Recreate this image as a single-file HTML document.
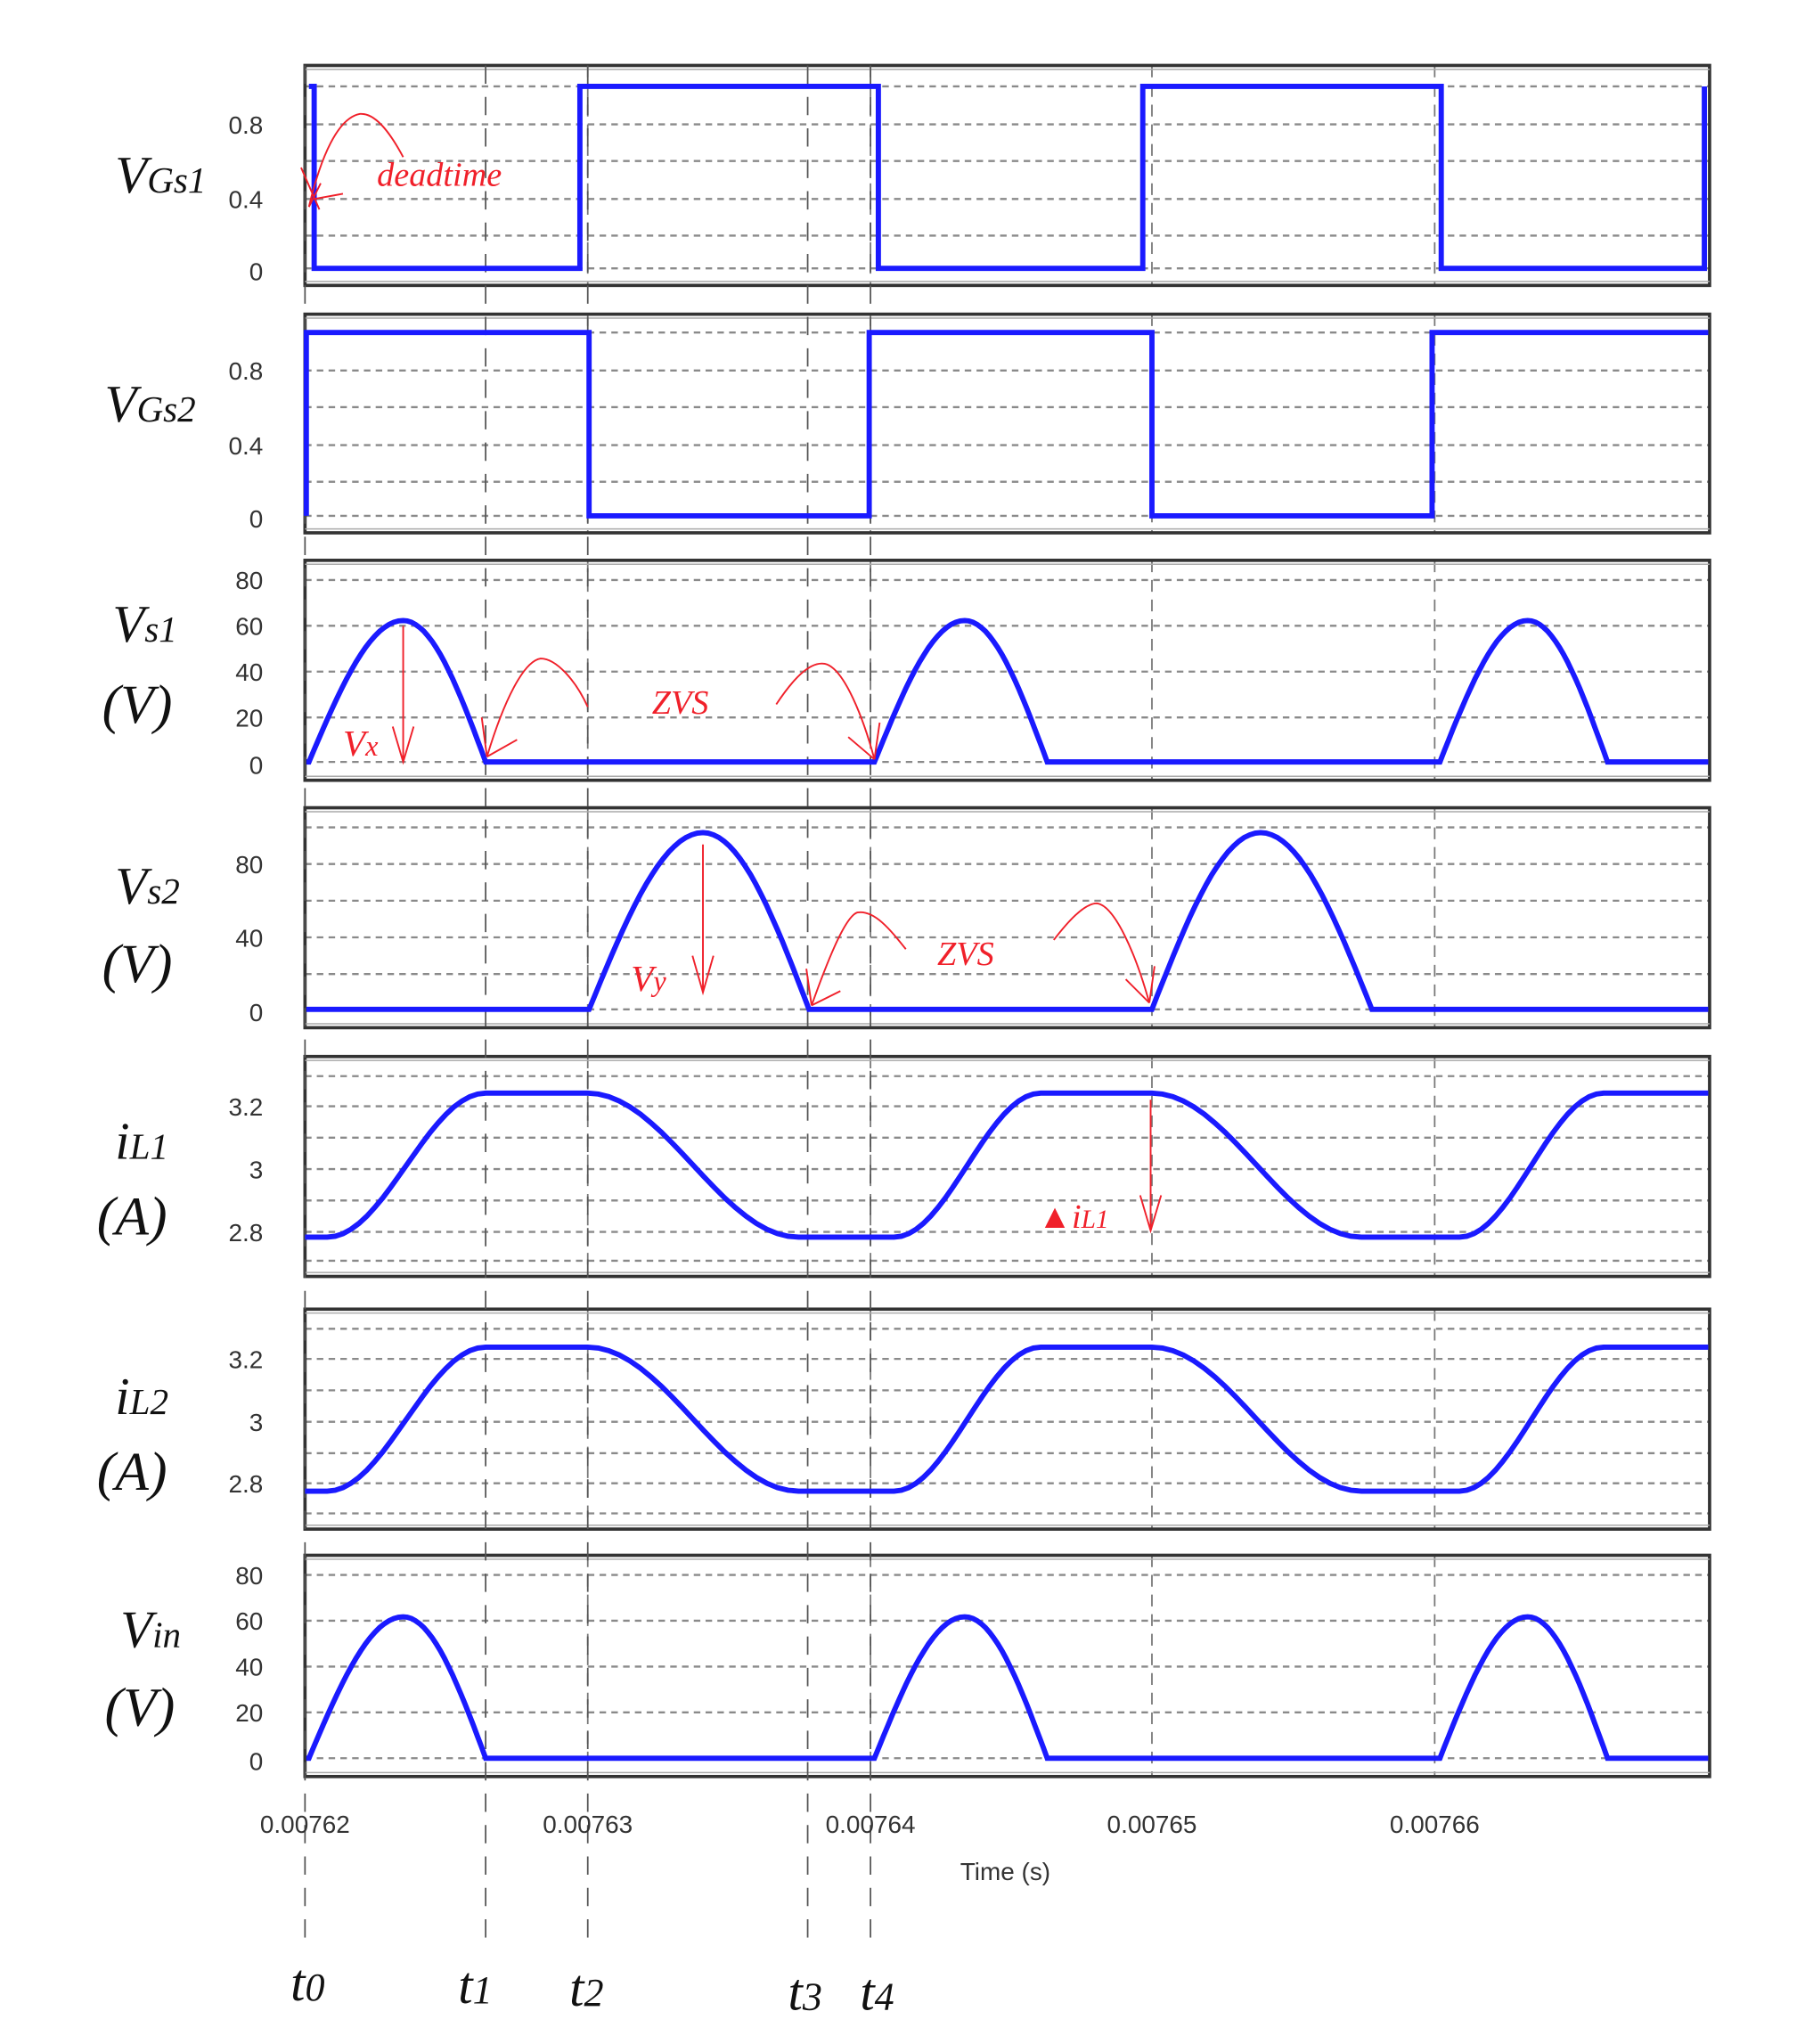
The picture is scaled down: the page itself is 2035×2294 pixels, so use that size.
<!DOCTYPE html>
<html><head><meta charset="utf-8">
<style>
html,body{margin:0;padding:0;background:#fff;}
svg{display:block;}
.tk{font-family:"Liberation Sans",sans-serif;font-size:19px;fill:#333;}
.lab{font-family:"Liberation Serif",serif;font-style:italic;fill:#111;}
.red{font-family:"Liberation Serif",serif;font-style:italic;fill:#f0202a;}
</style></head>
<body>
<svg id="s" width="2035" height="2294" viewBox="0 0 1385 1561.3" preserveAspectRatio="none" xmlns="http://www.w3.org/2000/svg">
<g id="g"></g>
<!-- annotations -->
<g fill="none" stroke="#f0202a" stroke-width="1.3">
<path d="M236,158 C245,120 258,90 275,87 C288,86 300,105 308,120"/>
<path d="M230,128 L244,160 M236,158 L245,140 M240,152 L262,148"/>
<path d="M308,478 L308,582 M300,555 L308,582 L316,555"/>
<path d="M372,578 C385,535 400,505 413,503 C425,503 440,520 449,540"/>
<path d="M372,578 L368,548 M372,578 L395,565"/>
<path d="M593,538 C605,520 618,505 630,507 C645,510 660,550 668,580"/>
<path d="M668,580 L672,552 M668,580 L648,563"/>
<path d="M537,645 L537,758 M529,730 L537,758 L545,730"/>
<path d="M620,768 C630,740 645,700 655,697 C668,695 680,710 692,725"/>
<path d="M620,768 L616,740 M620,768 L642,757"/>
<path d="M805,718 C815,705 828,690 838,690 C852,692 868,730 878,766"/>
<path d="M878,766 L882,738 M878,766 L860,748"/>
<path d="M879,840 L879,940 M871,913 L879,940 L887,913"/>
</g>
<text class="red" x="288" y="142" font-size="26">deadtime</text>
<text class="red" x="262" y="577" font-size="28">V<tspan font-size="22">x</tspan></text>
<text class="red" x="498" y="545" font-size="26">ZVS</text>
<text class="red" x="482" y="757" font-size="28">V<tspan font-size="22">y</tspan></text>
<text class="red" x="716" y="737" font-size="26">ZVS</text>
<text class="red" x="793" y="938" font-size="26">▲<tspan>i</tspan><tspan font-size="20">L1</tspan></text>
</svg>
<script>
const g=document.getElementById('g');let h='';
const XL=233,XR=1306;
const panels=[
 {t:50,b:218,grid:[66,95,123,152,180,205],ticks:[[95,'0.8'],[152,'0.4'],[207,'0']]},
 {t:240,b:407,grid:[254,283,311,340,368,394],ticks:[[283,'0.8'],[340,'0.4'],[396,'0']]},
 {t:428,b:596,grid:[443,478,513,548,582],ticks:[[443,'80'],[478,'60'],[513,'40'],[548,'20'],[584,'0']]},
 {t:617,b:785,grid:[632,660,688,716,744,771],ticks:[[660,'80'],[716,'40'],[773,'0']]},
 {t:807,b:975,grid:[822,845,869,893,917,941,963],ticks:[[845,'3.2'],[893,'3'],[941,'2.8']]},
 {t:1000,b:1168,grid:[1015,1038,1062,1086,1110,1133,1156],ticks:[[1038,'3.2'],[1086,'3'],[1133,'2.8']]},
 {t:1188,b:1357,grid:[1203,1238,1273,1308,1343],ticks:[[1203,'80'],[1238,'60'],[1273,'40'],[1308,'20'],[1345,'0']]}
];
for(const p of panels){
 for(const y of p.grid) h+=`<line x1="${XL}" x2="${XR}" y1="${y}" y2="${y}" stroke="#8a8a8a" stroke-width="1.6" stroke-dasharray="5,4"/>`;
 for(const x of [449,665,880,1096]) h+=`<line x1="${x}" x2="${x}" y1="${p.t}" y2="${p.b}" stroke="#777" stroke-width="1.2" stroke-dasharray="9,6"/>`;
 h+=`<rect x="${XL}" y="${p.t}" width="${XR-XL}" height="${p.b-p.t}" fill="none" stroke="#333" stroke-width="2.5"/>`;
 h+=`<line x1="${XL}" x2="${XR}" y1="${p.t+3}" y2="${p.t+3}" stroke="#aaa" stroke-width="1"/>`;
 h+=`<line x1="${XL}" x2="${XR}" y1="${p.b-3}" y2="${p.b-3}" stroke="#aaa" stroke-width="1"/>`;
 for(const [y,s] of p.ticks) h+=`<text class="tk" x="201" y="${y+7}" text-anchor="end">${s}</text>`;
}
// t lines
for(const x of [233,371,449,617,665]) h+=`<line x1="${x}" x2="${x}" y1="50" y2="1490" stroke="#555" stroke-width="1.2" stroke-dasharray="14,10"/>`;
// signals
function sq(pts){return `<polyline points="${pts}" fill="none" stroke="#1a1aff" stroke-width="4" stroke-linejoin="miter"/>`;}
h+=sq("236,66 240,66 240,205 443,205 443,66 671,66 671,205 873,205 873,66 1101,66 1101,205 1302,205 1302,66");
h+=sq("234,394 234,254 450,254 450,394 664,394 664,254 880,254 880,394 1094,394 1094,254 1305,254");
function humps(y0,yp,hs){
 let pts=[[XL+1,y0]];
 for(const [a,p,b] of hs){
  for(let i=0;i<=20;i++){const u=i/20;pts.push([a+(p-a)*u,y0-(y0-yp)*Math.sin(Math.PI/2*u)]);}
  for(let i=1;i<=20;i++){const u=i/20;pts.push([p+(b-p)*u,y0-(y0-yp)*Math.cos(Math.PI/2*u)]);}
 }
 pts.push([XR-1,y0]);
 return `<polyline points="${pts.map(q=>q[0].toFixed(1)+','+q[1].toFixed(1)).join(' ')}" fill="none" stroke="#1a1aff" stroke-width="4"/>`;
}
h+=humps(582,474,[[236,308,371],[668,737,800],[1100,1167,1228]]);
h+=humps(771,636,[[450,537,618],[880,963,1048]]);
h+=humps(1343,1235,[[236,308,371],[668,737,800],[1100,1167,1228]]);
function cur(lo,hi){
 const segs=[[233,lo],[250,lo],[371,hi],[449,hi],[610,lo],[683,lo],[795,hi],[880,hi],[1040,lo],[1115,lo],[1225,hi],[1305,hi]];
 let pts=[];
 for(let k=0;k<segs.length-1;k++){const [x1,y1]=segs[k],[x2,y2]=segs[k+1];
  for(let i=0;i<=20;i++){const u=i/20;pts.push([x1+(x2-x1)*u,y1+(y2-y1)*(1-Math.cos(Math.PI*u))/2]);}}
 return `<polyline points="${pts.map(q=>q[0].toFixed(1)+','+q[1].toFixed(1)).join(' ')}" fill="none" stroke="#1a1aff" stroke-width="4"/>`;
}
h+=cur(945,835);h+=cur(1139,1029);
// x ticks
[[233,'0.00762'],[449,'0.00763'],[665,'0.00764'],[880,'0.00765'],[1096,'0.00766']].forEach(([x,s])=>h+=`<text class="tk" x="${x}" y="1400" text-anchor="middle">${s}</text>`);
h+=`<text class="tk" x="768" y="1436" text-anchor="middle">Time (s)</text>`;
// left labels
function L(x,y,main,sub,extra){h+=`<text class="lab" x="${x}" y="${y}" font-size="40">${main}<tspan font-size="28">${sub}</tspan>${extra||''}</text>`;}
L(88,147,'V','Gs1');L(80,322,'V','Gs2');
L(86,490,'V','s1');h+=`<text class="lab" x="78" y="552" font-size="42">(V)</text>`;
L(88,690,'V','s2');h+=`<text class="lab" x="78" y="750" font-size="42">(V)</text>`;
L(88,885,'i','L1');h+=`<text class="lab" x="74" y="943" font-size="42">(A)</text>`;
L(88,1080,'i','L2');h+=`<text class="lab" x="74" y="1138" font-size="42">(A)</text>`;
L(92,1258,'V','in');h+=`<text class="lab" x="80" y="1318" font-size="42">(V)</text>`;
[[222,1528,'0'],[350,1530,'1'],[435,1532,'2'],[602,1535,'3'],[657,1535,'4']].forEach(([x,y,d])=>h+=`<text class="lab" x="${x}" y="${y}" font-size="40">t<tspan font-size="30">${d}</tspan></text>`);
g.innerHTML=h;
</script>
</body></html>
